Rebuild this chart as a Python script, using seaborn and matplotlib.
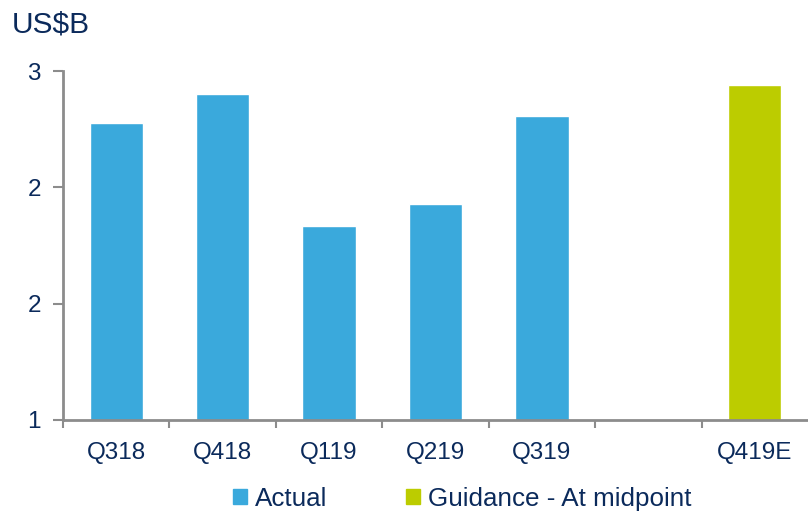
import numpy as np
import pandas as pd
import matplotlib.pyplot as plt
import seaborn as sns
from matplotlib.patches import Patch

# values (US$B)
quarters = ["Q318", "Q418", "Q119", "Q219", "Q319", "Q419E"]
revenue = [2.70, 2.87, 2.11, 2.24, 2.74, 2.92]
kind = ["Actual", "Actual", "Actual", "Actual", "Actual", "Guidance - At midpoint"]
order = ["Q318", "Q418", "Q119", "Q219", "Q319", " ", "Q419E"]
tick_labels = ["Q318", "Q418", "Q119", "Q219", "Q319", "", "Q419E"]
y_ticks = [1, 5 / 3, 7 / 3, 3]
y_tick_labels = ["1", "2", "2", "3"]

blue = "#3aa9dc"
green = "#bccc00"
navy = "#0b2a5b"
grey = "#8c8c8c"

sns.set_style("white")
plt.rcParams["font.family"] = ["Liberation Sans", "DejaVu Sans"]

df = pd.DataFrame({"quarter": quarters, "value": revenue, "kind": kind})

fig = plt.figure(figsize=(8.08, 5.15), dpi=100)
ax = fig.add_axes([0.078, 0.1845, 0.922, 0.6775])

sns.barplot(data=df, x="quarter", y="value", hue="kind", order=order,
            palette={"Actual": blue, "Guidance - At midpoint": green},
            dodge=False, width=0.5, saturation=1, legend=False, ax=ax)

ax.set_ylim(1, 3)
ax.set_xlim(-0.5, len(order) - 0.5)
ax.set_yticks(y_ticks)
ax.set_yticklabels(y_tick_labels)
ax.set_xticks(range(len(order)))
ax.set_xticklabels(tick_labels)
ax.set_xticks(np.arange(-0.5, len(order) - 0.5, 1), minor=True)
ax.tick_params(axis="x", which="major", bottom=True, length=0, pad=16, labelsize=17.5, labelcolor=navy)
ax.tick_params(axis="x", which="minor", bottom=True, length=6, width=1.5, color=grey, direction="out")
ax.tick_params(axis="y", left=True, length=7, width=1.5, color=grey, pad=9, labelsize=17.5, labelcolor=navy)
ax.set_xlabel("")
ax.set_ylabel("")

for s in ["top", "right"]:
    ax.spines[s].set_visible(False)
for s in ["left", "bottom"]:
    ax.spines[s].set_color(grey)
    ax.spines[s].set_linewidth(2)

fig.text(0.014, 0.952, "US$B", fontsize=21.5, color=navy, va="center", ha="left")

handles = [Patch(color=blue, label="Actual"), Patch(color=green, label="Guidance - At midpoint")]
leg = fig.legend(handles=handles, loc="center", bbox_to_anchor=(0.572, 0.032), ncol=2,
                 frameon=False, fontsize=18.7, handlelength=0.55, handleheight=0.55,
                 handletextpad=0.3, columnspacing=3.0)
for t in leg.get_texts():
    t.set_color(navy)

fig.savefig("out.png", dpi=100)
